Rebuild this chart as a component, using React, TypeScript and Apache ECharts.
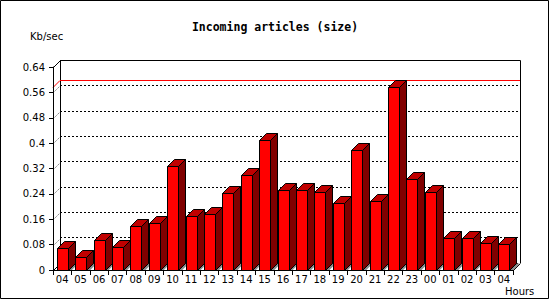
import React, { useEffect, useRef } from "react";
import * as echarts from "echarts";

const hours = ["04","05","06","07","08","09","10","11","12","13","14","15","16","17","18","19","20","21","22","23","00","01","02","03","04"];
const kbPerSec = [0.068,0.040,0.094,0.071,0.139,0.147,0.327,0.169,0.178,0.244,0.299,0.411,0.251,0.251,0.247,0.211,0.377,0.216,0.578,0.288,0.247,0.100,0.100,0.084,0.081];
const yTicks = [0,0.08,0.16,0.24,0.32,0.4,0.48,0.56,0.64];

const D = 7;
const FONT = "DejaVu Sans";

export default function App() {
  const ref = useRef<HTMLDivElement>(null);
  useEffect(() => {
    const chart = echarts.init(ref.current!, null, { renderer: "svg" });
    const maxV = Math.max(...kbPerSec);

    const renderBar = (params: any, api: any) => {
      const idx = api.value(0);
      const v = api.value(1);
      const base = api.coord([idx, 0]);
      const top = api.coord([idx, v]);
      const band = api.size([1, 0])[0];
      const w = Math.round(band * 0.6);
      const x0 = Math.round(base[0] - w / 2) + 0.5;
      const x1 = x0 + w;
      const yb = Math.round(base[1]) + 0.5;
      const yt = Math.round(top[1]) + 0.5;
      const bandRight = base[0] + band / 2;
      const edge = { stroke: "#000", lineWidth: 1 };
      return {
        type: "group",
        children: [
          {
            type: "polygon",
            shape: { points: [[x1, yb], [x1 + D, yb - D], [bandRight + D, yb - D], [bandRight, yb]] },
            style: { fill: "#8c8c8c" },
          },
          {
            type: "rect",
            shape: { x: x0, y: yt, width: w, height: yb - yt },
            style: { fill: "#ff0000", ...edge },
          },
          {
            type: "polygon",
            shape: { points: [[x0, yt], [x0 + D, yt - D], [x1 + D, yt - D], [x1, yt]] },
            style: { fill: "#c00000", ...edge },
          },
          {
            type: "polygon",
            shape: { points: [[x1, yt], [x1 + D, yt - D], [x1 + D, yb - D], [x1, yb]] },
            style: { fill: "#800000", ...edge },
          },
        ],
      };
    };

    const renderConnector = (params: any, api: any) => {
      const v = api.value(1);
      const p = api.coord([0, v]);
      const cs = params.coordSys;
      const x = cs.x + 0.5;
      const y = Math.round(p[1]) + 0.5;
      const solid = v === yTicks[0] || v === yTicks[yTicks.length - 1];
      return {
        type: "line",
        shape: { x1: x, y1: y, x2: x + D, y2: y - D },
        style: { stroke: "#000", lineWidth: 1, lineDash: solid ? null : [1, 2] },
      };
    };

    const renderMaxLine = (params: any, api: any) => {
      const p = api.coord([0, api.value(1)]);
      const cs = params.coordSys;
      const y = Math.round(p[1]) + 0.5;
      return {
        type: "polyline",
        shape: { points: [[cs.x, y], [cs.x + D, y - D], [cs.x + cs.width + D, y - D]] },
        style: { stroke: "#ff0000", lineWidth: 1, fill: null },
      };
    };

    const renderFloorEdge = (params: any, api: any) => {
      const cs = params.coordSys;
      const xr = cs.x + cs.width + 0.5;
      const yb = cs.y + cs.height + 0.5;
      return {
        type: "line",
        shape: { x1: xr, y1: yb, x2: xr + D, y2: yb - D },
        style: { stroke: "#000", lineWidth: 1 },
      };
    };

    const renderBackWall = (params: any) => {
      const cs = params.coordSys;
      const l = cs.x + 0.5;
      const r = cs.x + cs.width + 0.5;
      const t = cs.y + 0.5;
      const b = cs.y + cs.height;
      return {
        type: "polyline",
        shape: { points: [[l, b], [l, t], [r, t], [r, b]] },
        style: { stroke: "#000", lineWidth: 1, fill: null },
      };
    };

    chart.setOption({
      animation: false,
      backgroundColor: "#fff",
      title: {
        text: "Incoming articles (size)",
        left: "center",
        top: 21,
        padding: 0,
        textStyle: { fontFamily: "DejaVu Sans Mono", fontWeight: "bold", fontSize: 11.5, color: "#000" },
      },
      grid: [
        { left: 53, right: 37, top: 67, bottom: 30 },
        { left: 60, right: 30, top: 60, bottom: 37 },
      ],
      xAxis: [
        {
          type: "category",
          gridIndex: 0,
          data: hours,
          boundaryGap: true,
          axisLine: { show: true, lineStyle: { color: "#000", width: 1 } },
          axisTick: { show: true, length: 5, lineStyle: { color: "#000" } },
          axisLabel: { color: "#000", fontFamily: FONT, fontSize: 10, margin: 4, interval: 0 },
          splitLine: { show: false },
          z: 5,
        },
        { type: "value", gridIndex: 1, min: 0, max: 1, show: false },
      ],
      yAxis: [
        {
          type: "value",
          gridIndex: 0,
          min: 0,
          max: 0.64,
          interval: 0.08,
          axisLine: { show: true, lineStyle: { color: "#000", width: 1 } },
          axisTick: { show: true, length: 4, lineStyle: { color: "#000" } },
          axisLabel: { color: "#000", fontFamily: FONT, fontSize: 10, margin: 8 },
          splitLine: { show: false },
          z: 5,
        },
        {
          type: "value",
          gridIndex: 1,
          min: 0,
          max: 0.64,
          interval: 0.08,
          axisLine: { show: false },
          axisTick: { show: false },
          axisLabel: { show: false },
          splitLine: { show: true, lineStyle: { color: "#000", width: 1, type: [2, 2] } },
        },
      ],
      graphic: [
        {
          type: "rect",
          silent: true,
          shape: { x: 0.5, y: 0.5, width: 548, height: 298 },
          style: { fill: null, stroke: "#000", lineWidth: 1 },
        },
        {
          type: "text",
          silent: true,
          left: 30,
          top: 31,
          style: { text: "Kb/sec", fontFamily: FONT, fontSize: 10, fill: "#000" },
        },
        {
          type: "text",
          silent: true,
          left: 505,
          top: 286,
          style: { text: "Hours", fontFamily: FONT, fontSize: 10, fill: "#000" },
        },
      ],
      series: [
        {
          type: "custom",
          name: "wall",
          xAxisIndex: 1,
          yAxisIndex: 1,
          silent: true,
          data: [[0, 0]],
          renderItem: renderBackWall,
          z: 1,
        },
        {
          type: "custom",
          name: "connectors",
          xAxisIndex: 0,
          yAxisIndex: 0,
          silent: true,
          data: yTicks.map((v) => [0, v]),
          renderItem: renderConnector,
          z: 2,
        },
        {
          type: "custom",
          name: "max",
          xAxisIndex: 0,
          yAxisIndex: 0,
          silent: true,
          data: [[0, maxV]],
          renderItem: renderMaxLine,
          z: 2,
        },
        {
          type: "custom",
          name: "floorEdge",
          xAxisIndex: 0,
          yAxisIndex: 0,
          silent: true,
          data: [[0, 0]],
          renderItem: renderFloorEdge,
          z: 2,
        },
        {
          type: "custom",
          name: "Kb/sec",
          xAxisIndex: 0,
          yAxisIndex: 0,
          silent: true,
          data: kbPerSec.map((v, i) => [i, v]),
          renderItem: renderBar,
          z: 3,
        },
      ],
    });
    return () => chart.dispose();
  }, []);
  return (
    <div
      ref={ref}
      style={{ position: "fixed", left: 0, top: 0, width: 550, height: 300, background: "#fff" }}
    />
  );
}
